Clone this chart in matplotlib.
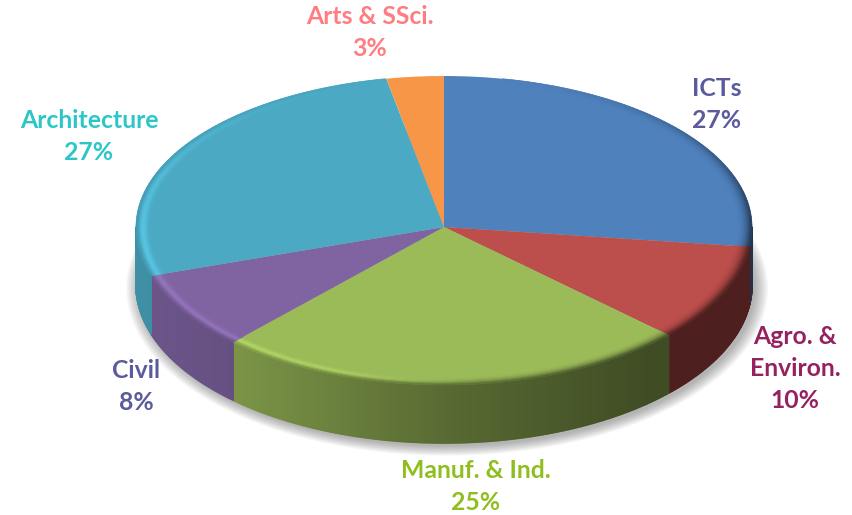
import matplotlib
matplotlib.use('Agg')
import matplotlib.pyplot as plt
import numpy as np
from matplotlib.collections import PolyCollection
from matplotlib.colors import to_rgb

categories = ['ICTs', 'Agro. &\nEnviron.', 'Manuf. & Ind.', 'Civil', 'Architecture', 'Arts & SSci.']
shares = [27, 10, 25, 8, 27, 3]
slice_colors = ['#4F81BD', '#BC4E4B', '#9BBB59', '#8064A2', '#4BA9C3', '#F79646']
label_colors = ['#5A5A9C', '#96215F', '#8FBE1E', '#5A5A9C', '#2CC6C8', '#FF7C80']
# label centre in pixels, first line
label_pos = [(717, 88), (795, 336), (476, 471), (136, 370), (89, 120), (370, 16)]

W, H = 852, 515
cx, cy = 444, 227
rx, ry_up, ry_down = 308, 151, 158
depth = 58 / ry_down


def y_fwd(y):
    y = np.asarray(y, dtype=float)
    return np.where(y > 0, y * ry_up, y * ry_down)


def y_inv(p):
    p = np.asarray(p, dtype=float)
    return np.where(p > 0, p / ry_up, p / ry_down)


fig = plt.figure(figsize=(W / 100, H / 100), dpi=100)
ax = fig.add_axes([0, 0, 1, 1])

ax.pie(shares, colors=slice_colors, startangle=90, counterclock=False,
       wedgeprops={'linewidth': 0, 'zorder': 3})
ax.set_aspect('auto')
ax.set_yscale('function', functions=(y_fwd, y_inv))
ax.set_xlim(-cx / rx, (W - cx) / rx)
ax.set_ylim(-(H - cy) / ry_down, cy / ry_up)
ax.axis('off')

# soft shadow under the pie
for e in np.linspace(0.06, 0.0, 12):
    th = np.linspace(0, 2 * np.pi, 240)
    ax.fill((1 + e * 0.7) * np.sin(th) + 0.01, (1 + e) * np.cos(th) - depth - 0.02,
            color='#555555', alpha=0.045, lw=0, zorder=1)

edges = np.concatenate([[0], np.cumsum(shares)]) * 3.6


def side_factor(x):
    return np.interp(x, [-1, -0.7, 0, 0.65, 1], [0.85, 0.8, 0.57, 0.41, 0.41])


# outer wall, only the part that faces the viewer
for k, col in enumerate(slice_colors):
    a0, a1 = max(edges[k], 90), min(edges[k + 1], 270)
    if a1 <= a0:
        continue
    th = np.radians(np.arange(a0, a1 + 0.5, 0.5))
    th[-1] = np.radians(a1)
    base = np.array(to_rgb(col))
    polys, cols = [], []
    for t0, t1 in zip(th[:-1], th[1:]):
        x0, x1 = np.sin(t0), np.sin(t1)
        y0, y1 = np.cos(t0), np.cos(t1)
        polys.append([(x0, y0), (x1, y1), (x1, y1 - depth), (x0, y0 - depth)])
        cols.append(base * side_factor((x0 + x1) / 2))
    ax.add_collection(PolyCollection(polys, facecolors=cols, edgecolors=cols,
                                     linewidths=1.2, zorder=2))

# bevel band along the rim of the top face
radii = np.linspace(0.95, 1.0, 9)
for k, col in enumerate(slice_colors):
    th_deg = np.arange(edges[k], edges[k + 1] + 1, 1.0)
    th_deg[-1] = edges[k + 1]
    th = np.radians(th_deg)
    base = np.array(to_rgb(col))
    polys, cols = [], []
    for t0, t1 in zip(th[:-1], th[1:]):
        tm = (t0 + t1) / 2
        xm = np.sin(tm)
        rim = np.clip(1 - np.cos(tm), 0, 1)
        if rim <= 0.02:
            continue
        side = base * side_factor(xm)
        light = 0.22 * np.clip((0.1 - xm) / 0.45, 0, 1)
        for j in range(len(radii) - 1):
            s = (j + 0.5) / (len(radii) - 1)
            c = base + (side - base) * s ** 2.2 * rim
            bump = np.exp(-((s - 0.6) / 0.28) ** 2) * light * rim
            c = np.clip(c * (1 + bump), 0, 1)
            r0, r1 = radii[j], radii[j + 1]
            polys.append([(r0 * np.sin(t0), r0 * np.cos(t0)), (r1 * np.sin(t0), r1 * np.cos(t0)),
                          (r1 * np.sin(t1), r1 * np.cos(t1)), (r0 * np.sin(t1), r0 * np.cos(t1))])
            cols.append(c)
    ax.add_collection(PolyCollection(polys, facecolors=cols, edgecolors=cols,
                                     linewidths=0.5, zorder=4))

for name, v, c, (px, py) in zip(categories, shares, label_colors, label_pos):
    for i, line in enumerate(name.split('\n') + [f'{v}%']):
        fig.text(px / W, 1 - (py + i * 32) / H, line, color=c, family='Lato',
                 fontweight='bold', fontsize=17.8, ha='center', va='center')

fig.savefig('out.png', dpi=100)
